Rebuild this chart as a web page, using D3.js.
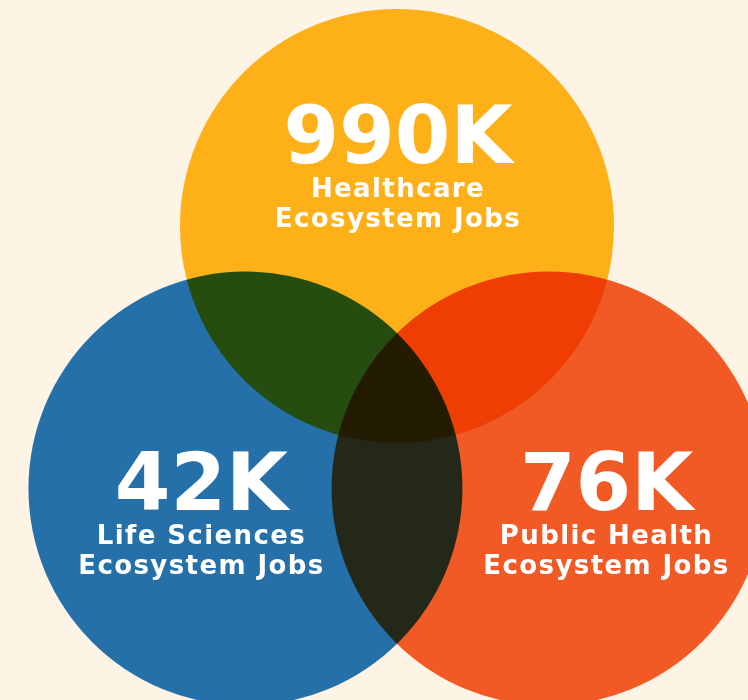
<!DOCTYPE html>
<html>
<head>
<meta charset="utf-8">
<script src="https://cdn.jsdelivr.net/npm/d3@7"></script>
<style>
  html, body { margin: 0; padding: 0; background: #fef4e5; }
  svg { display: block; }
  .circles { isolation: isolate; }
  .circles circle { mix-blend-mode: multiply; }
  .label text { fill: #fff; font-family: "DejaVu Sans", sans-serif; font-weight: bold; text-anchor: middle; }
</style>
</head>
<body>
<svg id="chart"></svg>
<script>
// Venn of ecosystem jobs (circles drawn equal size, like the source graphic)
const WIDTH = 748
const HEIGHT = 700

const sets = ["Healthcare", "Life Sciences", "Public Health"]
const jobs = ["990K", "42K", "76K"]
const subtitles = [
  ["Healthcare", "Ecosystem Jobs"],
  ["Life Sciences", "Ecosystem Jobs"],
  ["Public Health", "Ecosystem Jobs"],
]
const colors = ["#fdb018", "#2570a8", "#f15a24"]

// layout: circles sit on a triangle around a common centre
const CENTER = { x: 397, y: 401 }
const SPREAD = 175
const RADIUS = 217
const angles = [-90, 150, 30]
// where each label block sits relative to its circle centre
const labelOffset = [
  { dx: 1, dy: -63 },
  { dx: -44, dy: 21.5 },
  { dx: 58, dy: 21.5 },
]

const svg = d3.select("#chart").attr("width", WIDTH).attr("height", HEIGHT)

const toRad = d3.scaleLinear().domain([0, 360]).range([0, 2 * Math.PI])

const nodes = sets.map((name, i) => ({
  name,
  jobs: jobs[i],
  lines: subtitles[i],
  color: colors[i],
  x: CENTER.x + SPREAD * Math.cos(toRad(angles[i])),
  y: CENTER.y + SPREAD * Math.sin(toRad(angles[i])),
  off: labelOffset[i],
}))

svg
  .append("g")
  .attr("class", "circles")
  .selectAll("circle")
  .data(nodes)
  .join("circle")
  .attr("cx", (d) => d.x)
  .attr("cy", (d) => d.y)
  .attr("r", RADIUS)
  .attr("fill", (d) => d.color)

const labels = svg
  .append("g")
  .selectAll("g")
  .data(nodes)
  .join("g")
  .attr("class", "label")
  .attr("transform", (d) => `translate(${d.x + d.off.dx},${d.y + d.off.dy})`)

labels
  .append("text")
  .attr("font-size", 80)
  .text((d) => d.jobs)

labels
  .selectAll("text.sub")
  .data((d) => d.lines)
  .join("text")
  .attr("class", "sub")
  .attr("y", (_d, i) => 34 + i * 29.5)
  .attr("font-size", 26)
  .attr("letter-spacing", 1.4)
  .text((d) => d)
</script>
</body>
</html>
